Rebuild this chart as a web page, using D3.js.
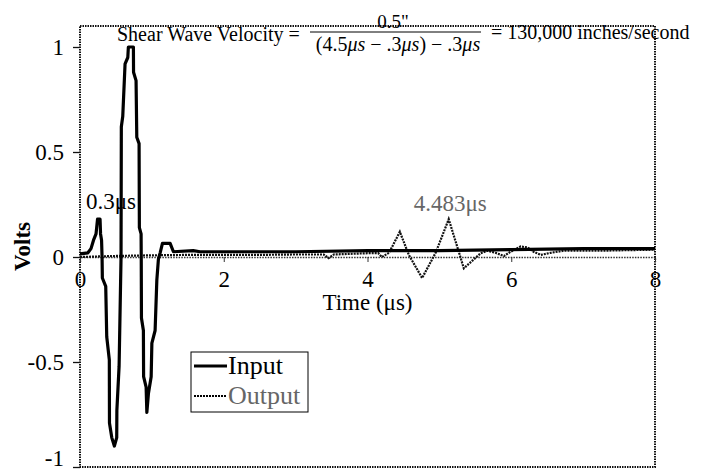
<!DOCTYPE html>
<html>
<head>
<meta charset="utf-8">
<script src="https://cdn.jsdelivr.net/npm/d3@7"></script>
<style>
	body { margin: 0; background: #fff; }
	svg { display: block; font-family: 'Liberation Serif', 'Times New Roman', serif; }
</style>
</head>
<body>
<div id="chart"></div>
<script>
// values
const inputTime = [0, 0.11, 0.153, 0.188, 0.223, 0.244, 0.279, 0.286, 0.3, 0.307, 0.311, 0.358, 0.372, 0.408, 0.41, 0.442, 0.478, 0.511, 0.513, 0.544, 0.571, 0.575, 0.595, 0.627, 0.665, 0.673, 0.743, 0.745, 0.78, 0.79, 0.822, 0.826, 0.85, 0.852, 0.855, 0.882, 0.885, 0.92, 0.93, 0.952, 0.99, 1.0, 1.045, 1.069, 1.091, 1.115, 1.147, 1.254, 1.3, 1.575, 1.67, 2, 3, 4, 5, 6, 7, 8];
const inputVolts = [0.015, 0.02, 0.04, 0.08, 0.11, 0.18, 0.18, 0.11, 0.08, 0, -0.1, -0.14, -0.38, -0.49, -0.79, -0.86, -0.9, -0.86, -0.73, -0.52, 0, 0.62, 0.67, 0.92, 0.95, 1, 1, 0.88, 0.84, 0.57, 0.54, 0.14, 0.11, 0, -0.29, -0.35, -0.57, -0.62, -0.74, -0.65, -0.57, -0.41, -0.35, -0.11, -0.01, 0.02, 0.065, 0.065, 0.025, 0.03, 0.025, 0.025, 0.025, 0.03, 0.03, 0.035, 0.04, 0.04];

const outputTime = [0, 0.5, 1, 1.5, 2, 2.5, 3, 3.39, 3.46, 3.53, 4.0, 4.15, 4.2, 4.3, 4.45, 4.575, 4.76, 4.948, 5.13, 5.27, 5.34, 5.575, 5.67, 5.78, 5.9, 5.99, 6.13, 6.23, 6.31, 6.41, 6.55, 6.73, 7.25, 8];
const outputVolts = [0, 0.005, 0.008, 0.01, 0.01, 0.01, 0.012, 0.012, -0.005, 0.012, 0.018, 0.018, 0, 0.02, 0.12, 0.01, -0.1, 0.02, 0.18, 0.025, -0.054, 0.018, 0.03, 0.02, 0.005, 0.025, 0.05, 0.045, 0.025, 0.01, 0.02, 0.03, 0.03, 0.035];

const xTicks = [0, 2, 4, 6, 8];
const yTicks = [-1, -0.5, 0, 0.5, 1];
const seriesNames = ['Input', 'Output'];
const annotations = [
	{ t: 0.43, v: 0.23, label: '0.3\u03bcs', cls: 'in' },
	{ t: 5.15, v: 0.22, label: '4.483\u03bcs', cls: 'out' }
];

const width = 701;
const height = 473;

const x = d3.scaleLinear().domain([0, 8]).range([80, 655]);
const y = d3.scaleLinear().domain([-1, 1.1]).range([467, 26]);

const $svg = d3.select('#chart').append('svg')
	.attr('width', width)
	.attr('height', height);

const toPts = (ts, vs) => ts.map((t, i) => [t, vs[i]]);
const line = d3.line().x(d => x(d[0])).y(d => y(d[1]));

// plot frame (dotted)
$svg.append('rect')
	.attr('x', x(0))
	.attr('y', y(1.1))
	.attr('width', x(8) - x(0))
	.attr('height', y(-1) - y(1.1))
	.attr('fill', 'none')
	.attr('stroke', '#111')
	.attr('stroke-width', 2)
	.attr('stroke-dasharray', '1.5,1');

// y axis
const yAxis = d3.axisLeft(y).tickValues(yTicks).tickSize(7).tickFormat(d3.format('~g'));
const $yAxis = $svg.append('g')
	.attr('transform', `translate(${x(0)},0)`)
	.call(yAxis);
$yAxis.select('.domain').remove();
$yAxis.selectAll('line').attr('stroke', '#111').attr('stroke-width', 1.3);
$yAxis.selectAll('text')
	.attr('x', -16)
	.attr('font-size', 23)
	.attr('font-family', 'Liberation Serif')
	.attr('fill', '#000')
	.text(d => (d < 0 ? '-' : '') + Math.abs(d));
$yAxis.selectAll('.tick').filter(d => d === -1).select('text').attr('dy', '-0.05em');

// x axis on the zero line
const xAxis = d3.axisBottom(x).tickValues(xTicks).tickSize(5).tickFormat(d3.format('d'));
const $xAxis = $svg.append('g')
	.attr('transform', `translate(0,${y(0)})`)
	.call(xAxis);
$xAxis.select('.domain')
	.attr('stroke', '#333')
	.attr('stroke-width', 1.4)
	.attr('stroke-dasharray', '1.5,1.2');
$xAxis.selectAll('line').attr('stroke', '#333');
$xAxis.selectAll('text')
	.attr('y', 14)
	.attr('font-size', 23)
	.attr('font-family', 'Liberation Serif')
	.attr('fill', '#000');

// axis titles
$svg.append('text')
	.attr('x', (x(0) + x(8)) / 2)
	.attr('y', y(0) + 53)
	.attr('text-anchor', 'middle')
	.attr('font-size', 23)
	.text('Time (\u03bcs)');

$svg.append('text')
	.attr('transform', `translate(30,${y(0.05)}) rotate(-90)`)
	.attr('text-anchor', 'middle')
	.attr('font-size', 23)
	.attr('font-weight', 'bold')
	.text('Volts');

// traces
$svg.append('path')
	.datum(toPts(outputTime, outputVolts))
	.attr('d', line)
	.attr('fill', 'none')
	.attr('stroke', '#111')
	.attr('stroke-width', 2.2)
	.attr('stroke-dasharray', '2,1');

$svg.append('path')
	.datum(toPts(inputTime, inputVolts))
	.attr('d', line)
	.attr('fill', 'none')
	.attr('stroke', '#000')
	.attr('stroke-width', 3.2)
	.attr('stroke-linejoin', 'round');

// peak labels
$svg.selectAll('.annot')
	.data(annotations)
	.enter()
	.append('text')
	.attr('class', 'annot')
	.attr('x', d => x(d.t))
	.attr('y', d => y(d.v))
	.attr('text-anchor', 'middle')
	.attr('font-size', 23)
	.attr('fill', d => (d.cls === 'out' ? '#666' : '#000'))
	.text(d => d.label);

// title equation
const $title = $svg.append('g');
$title.append('text')
	.attr('x', 117)
	.attr('y', 41)
	.attr('font-size', 20)
	.text('Shear Wave Velocity =');
$title.append('line')
	.attr('x1', 310).attr('x2', 481)
	.attr('y1', 32).attr('y2', 32)
	.attr('stroke', '#000')
	.attr('stroke-width', 1);
$title.append('text')
	.attr('x', 393)
	.attr('y', 28)
	.attr('text-anchor', 'middle')
	.attr('font-size', 19)
	.text('0.5"');
const $den = $title.append('text')
	.attr('x', 398)
	.attr('y', 51)
	.attr('text-anchor', 'middle')
	.attr('font-size', 20);
[['(4.5', false], ['\u03bcs', true], [' \u2212 .3', false], ['\u03bcs', true], [') \u2212 .3', false], ['\u03bcs', true]]
	.forEach(([s, it]) => {
		$den.append('tspan').attr('font-style', it ? 'italic' : 'normal').text(s);
	});
$title.append('text')
	.attr('x', 491)
	.attr('y', 39)
	.attr('font-size', 20)
	.text('= 130,000 inches/second');

// legend
const $legend = $svg.append('g').attr('transform', 'translate(191,352)');
$legend.append('rect')
	.attr('width', 117)
	.attr('height', 60)
	.attr('fill', '#fff')
	.attr('stroke', '#000')
	.attr('stroke-width', 1);
const $item = $legend.selectAll('.item')
	.data(seriesNames)
	.enter()
	.append('g')
	.attr('class', 'item')
	.attr('transform', (d, i) => `translate(0,${14 + i * 30})`);
$item.append('line')
	.attr('x1', 3).attr('x2', 36)
	.attr('stroke', '#000')
	.attr('stroke-width', (d, i) => (i === 0 ? 3 : 2))
	.attr('stroke-dasharray', (d, i) => (i === 0 ? null : '2,1'));
$item.append('text')
	.attr('x', 37)
	.attr('y', 8)
	.attr('font-size', 26)
	.attr('fill', (d, i) => (i === 0 ? '#000' : '#666'))
	.text(d => d);
</script>
</body>
</html>
